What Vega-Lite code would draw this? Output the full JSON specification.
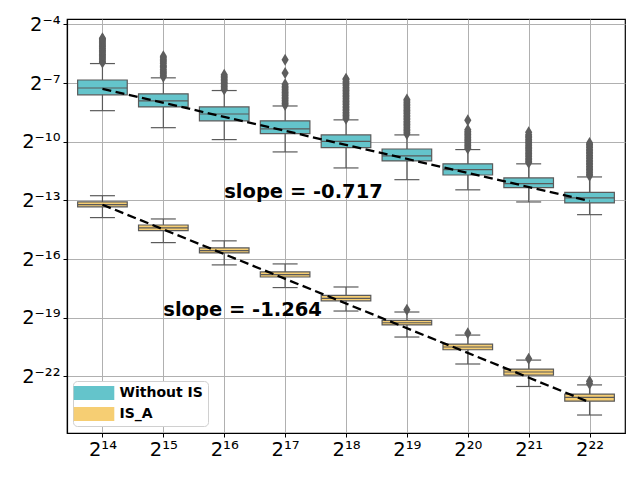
{
  "$schema": "https://vega.github.io/schema/vega-lite/v6.json",
  "width": 558,
  "height": 414,
  "autosize": {"type": "none"},
  "padding": {"left": 67, "top": 19, "right": 15, "bottom": 47},
  "background": "white",
  "config": {
    "view": {"stroke": "black", "strokeWidth": 1.2},
    "font": "DejaVu Sans",
    "axis": {
      "title": null,
      "labelFont": "DejaVu Sans",
      "labelFontSize": 19.5,
      "labelColor": "black",
      "domainColor": "black",
      "domainWidth": 1.2,
      "tickColor": "black",
      "tickSize": 4,
      "tickWidth": 1,
      "gridColor": "#b0b0b0",
      "gridWidth": 1,
      "gridOpacity": 1,
      "zindex": 1
    },
    "legend": {
      "orient": "none",
      "legendX": 6,
      "legendY": 362,
      "padding": 5,
      "fillColor": "white",
      "strokeColor": "#d0d0d0",
      "cornerRadius": 4,
      "labelFont": "DejaVu Sans",
      "labelFontSize": 14,
      "labelFontWeight": "bold",
      "labelColor": "black",
      "rowPadding": 7,
      "symbolType": "M-2.9,-1H2.9V1H-2.9Z",
      "symbolSize": 196,
      "symbolStrokeWidth": 0,
      "symbolOpacity": 1,
      "symbolOffset": 9,
      "labelOffset": 18.5
    }
  },
  "datasets": {
    "boxes": [
      {"n": 14, "group": "Without IS", "lo": -8.41, "q1": -7.60, "med": -7.25, "q3": -6.84, "hi": -6.00},
      {"n": 15, "group": "Without IS", "lo": -9.28, "q1": -8.22, "med": -7.91, "q3": -7.55, "hi": -6.73},
      {"n": 16, "group": "Without IS", "lo": -9.89, "q1": -8.93, "med": -8.58, "q3": -8.22, "hi": -7.38},
      {"n": 17, "group": "Without IS", "lo": -10.52, "q1": -9.58, "med": -9.34, "q3": -8.93, "hi": -8.17},
      {"n": 18, "group": "Without IS", "lo": -11.34, "q1": -10.30, "med": -9.98, "q3": -9.65, "hi": -8.88},
      {"n": 19, "group": "Without IS", "lo": -11.94, "q1": -10.98, "med": -10.72, "q3": -10.37, "hi": -9.65},
      {"n": 20, "group": "Without IS", "lo": -12.46, "q1": -11.70, "med": -11.43, "q3": -11.13, "hi": -10.40},
      {"n": 21, "group": "Without IS", "lo": -13.08, "q1": -12.35, "med": -12.14, "q3": -11.85, "hi": -11.13},
      {"n": 22, "group": "Without IS", "lo": -13.73, "q1": -13.13, "med": -12.87, "q3": -12.59, "hi": -11.80},
      {"n": 14, "group": "IS_A", "lo": -13.88, "q1": -13.33, "med": -13.22, "q3": -13.08, "hi": -12.76},
      {"n": 15, "group": "IS_A", "lo": -15.16, "q1": -14.55, "med": -14.41, "q3": -14.26, "hi": -13.95},
      {"n": 16, "group": "IS_A", "lo": -16.30, "q1": -15.69, "med": -15.57, "q3": -15.43, "hi": -15.07},
      {"n": 17, "group": "IS_A", "lo": -17.46, "q1": -16.92, "med": -16.80, "q3": -16.66, "hi": -16.25},
      {"n": 18, "group": "IS_A", "lo": -18.66, "q1": -18.14, "med": -18.01, "q3": -17.86, "hi": -17.43},
      {"n": 19, "group": "IS_A", "lo": -19.99, "q1": -19.37, "med": -19.26, "q3": -19.14, "hi": -18.71},
      {"n": 20, "group": "IS_A", "lo": -21.37, "q1": -20.64, "med": -20.50, "q3": -20.35, "hi": -19.89},
      {"n": 21, "group": "IS_A", "lo": -22.52, "q1": -21.94, "med": -21.78, "q3": -21.63, "hi": -21.17},
      {"n": 22, "group": "IS_A", "lo": -23.98, "q1": -23.27, "med": -23.08, "q3": -22.91, "hi": -22.44}
    ],
    "fliers": [
      {"n": 14, "group": "Without IS", "v": [-5.95, -5.88, -5.8, -5.73, -5.66, -5.6, -5.53, -5.46, -5.4, -5.33, -5.26, -5.2, -5.13, -5.06, -5.0, -4.93, -4.86, -4.8, -4.74, -4.7]},
      {"n": 15, "group": "Without IS", "v": [-6.68, -6.6, -6.52, -6.45, -6.38, -6.3, -6.22, -6.15, -6.08, -6.0, -5.92, -5.85, -5.78, -5.7, -5.62]},
      {"n": 16, "group": "Without IS", "v": [-7.33, -7.25, -7.17, -7.1, -7.02, -6.95, -6.88, -6.8, -6.72, -6.65, -6.57]},
      {"n": 17, "group": "Without IS", "v": [-8.12, -8.04, -7.96, -7.88, -7.8, -7.72, -7.64, -7.56, -7.48, -7.4, -7.32, -7.24, -7.16, -7.06, -6.48, -5.81]},
      {"n": 18, "group": "Without IS", "v": [-8.82, -8.74, -8.66, -8.58, -8.5, -8.42, -8.34, -8.26, -8.18, -8.1, -8.02, -7.94, -7.86, -7.78, -7.7, -7.62, -7.54, -7.46, -7.38, -7.3, -7.22, -7.14, -7.06, -6.98, -6.9, -6.82, -6.78]},
      {"n": 19, "group": "Without IS", "v": [-9.6, -9.52, -9.44, -9.36, -9.28, -9.2, -9.12, -9.04, -8.96, -8.88, -8.8, -8.72, -8.64, -8.56, -8.48, -8.4, -8.32, -8.24, -8.16, -8.08, -8.0, -7.92, -7.84]},
      {"n": 20, "group": "Without IS", "v": [-10.35, -10.27, -10.19, -10.11, -10.03, -9.95, -9.87, -9.79, -9.71, -9.63, -9.55, -9.47, -9.38, -8.9]},
      {"n": 21, "group": "Without IS", "v": [-11.08, -11.0, -10.92, -10.84, -10.76, -10.68, -10.6, -10.52, -10.44, -10.36, -10.28, -10.2, -10.12, -10.04, -9.96, -9.88, -9.8, -9.72, -9.64, -9.52]},
      {"n": 22, "group": "Without IS", "v": [-11.74, -11.66, -11.58, -11.5, -11.42, -11.34, -11.26, -11.18, -11.1, -11.02, -10.94, -10.86, -10.78, -10.7, -10.62, -10.54, -10.46, -10.38, -10.3, -10.22, -10.14, -10.06]},
      {"n": 19, "group": "IS_A", "v": [-18.6]},
      {"n": 20, "group": "IS_A", "v": [-19.8]},
      {"n": 21, "group": "IS_A", "v": [-21.1]},
      {"n": 22, "group": "IS_A", "v": [-22.25, -22.38]}
    ],
    "fits": [
      {"group": "Without IS", "n": 14, "fit": -7.29},
      {"group": "Without IS", "n": 22, "fit": -13.03},
      {"group": "IS_A", "n": 14, "fit": -13.22},
      {"group": "IS_A", "n": 22, "fit": -23.33}
    ],
    "notes": [
      {"n": 16, "y": -12.87, "label": "slope = -0.717"},
      {"n": 15, "y": -18.93, "label": "slope = -1.264"}
    ]
  },
  "layer": [
    {
      "data": {"name": "boxes"},
      "mark": {"type": "rule", "color": "#5a5a5a", "strokeWidth": 1.2},
      "encoding": {
        "x": {
          "field": "n",
          "type": "quantitative",
          "title": null,
          "scale": {"domain": [13.5, 22.5], "nice": false, "zero": false},
          "axis": {
            "values": [14, 15, 16, 17, 18, 19, 20, 21, 22],
            "labelPadding": 3,
            "labelExpr": "'2' + replace(replace(replace(replace(replace(replace(replace(replace(replace(replace(replace('' + datum.value, regexp('-', 'g'), '⁻'), regexp('0', 'g'), '⁰'), regexp('1', 'g'), '¹'), regexp('2', 'g'), '²'), regexp('3', 'g'), '³'), regexp('4', 'g'), '⁴'), regexp('5', 'g'), '⁵'), regexp('6', 'g'), '⁶'), regexp('7', 'g'), '⁷'), regexp('8', 'g'), '⁸'), regexp('9', 'g'), '⁹')"
          }
        },
        "y": {
          "field": "lo",
          "type": "quantitative",
          "title": null,
          "scale": {"domain": [-24.9, -3.72], "nice": false, "zero": false},
          "axis": {
            "values": [-4, -7, -10, -13, -16, -19, -22],
            "labelPadding": 3,
            "labelExpr": "'2' + replace(replace(replace(replace(replace(replace(replace(replace(replace(replace(replace('' + datum.value, regexp('-', 'g'), '⁻'), regexp('0', 'g'), '⁰'), regexp('1', 'g'), '¹'), regexp('2', 'g'), '²'), regexp('3', 'g'), '³'), regexp('4', 'g'), '⁴'), regexp('5', 'g'), '⁵'), regexp('6', 'g'), '⁶'), regexp('7', 'g'), '⁷'), regexp('8', 'g'), '⁸'), regexp('9', 'g'), '⁹')"
          }
        },
        "y2": {"field": "hi"}
      }
    },
    {
      "data": {"name": "boxes"},
      "mark": {"type": "tick", "orient": "horizontal", "size": 25, "thickness": 1.2, "color": "#5a5a5a", "opacity": 1},
      "encoding": {
        "x": {"field": "n", "type": "quantitative", "title": null},
        "y": {"field": "lo", "type": "quantitative", "title": null}
      }
    },
    {
      "data": {"name": "boxes"},
      "mark": {"type": "tick", "orient": "horizontal", "size": 25, "thickness": 1.2, "color": "#5a5a5a", "opacity": 1},
      "encoding": {
        "x": {"field": "n", "type": "quantitative", "title": null},
        "y": {"field": "hi", "type": "quantitative", "title": null}
      }
    },
    {
      "data": {"name": "boxes"},
      "mark": {"type": "bar", "orient": "vertical", "width": 49.6, "stroke": "#5a5a5a", "strokeWidth": 1.2, "opacity": 1},
      "encoding": {
        "x": {"field": "n", "type": "quantitative", "title": null},
        "y": {"field": "q1", "type": "quantitative", "title": null},
        "y2": {"field": "q3"},
        "color": {
          "field": "group",
          "type": "nominal",
          "title": null,
          "scale": {"domain": ["Without IS", "IS_A"], "range": ["#64c4cb", "#f6ce73"]},
          "legend": {"title": null}
        }
      }
    },
    {
      "data": {"name": "boxes"},
      "mark": {"type": "tick", "orient": "horizontal", "size": 49.6, "thickness": 1.2, "color": "#5a5a5a", "opacity": 1},
      "encoding": {
        "x": {"field": "n", "type": "quantitative", "title": null},
        "y": {"field": "med", "type": "quantitative", "title": null}
      }
    },
    {
      "data": {"name": "fliers"},
      "transform": [{"flatten": ["v"]}],
      "mark": {"type": "point", "shape": "M0,-1L0.6,0L0,1L-0.6,0Z", "size": 144, "filled": true, "color": "#5d5d5d", "opacity": 1, "strokeWidth": 0},
      "encoding": {
        "x": {"field": "n", "type": "quantitative", "title": null},
        "y": {"field": "v", "type": "quantitative", "title": null}
      }
    },
    {
      "data": {"name": "fits"},
      "mark": {"type": "line", "color": "black", "strokeWidth": 2.3, "strokeDash": [9, 4.5]},
      "encoding": {
        "x": {"field": "n", "type": "quantitative", "title": null},
        "y": {"field": "fit", "type": "quantitative", "title": null},
        "detail": {"field": "group"}
      }
    },
    {
      "data": {"name": "notes"},
      "mark": {"type": "text", "align": "left", "baseline": "alphabetic", "font": "DejaVu Sans", "fontWeight": "bold", "fontSize": 19.5, "color": "black"},
      "encoding": {
        "x": {"field": "n", "type": "quantitative", "title": null},
        "y": {"field": "y", "type": "quantitative", "title": null},
        "text": {"field": "label"}
      }
    }
  ]
}
